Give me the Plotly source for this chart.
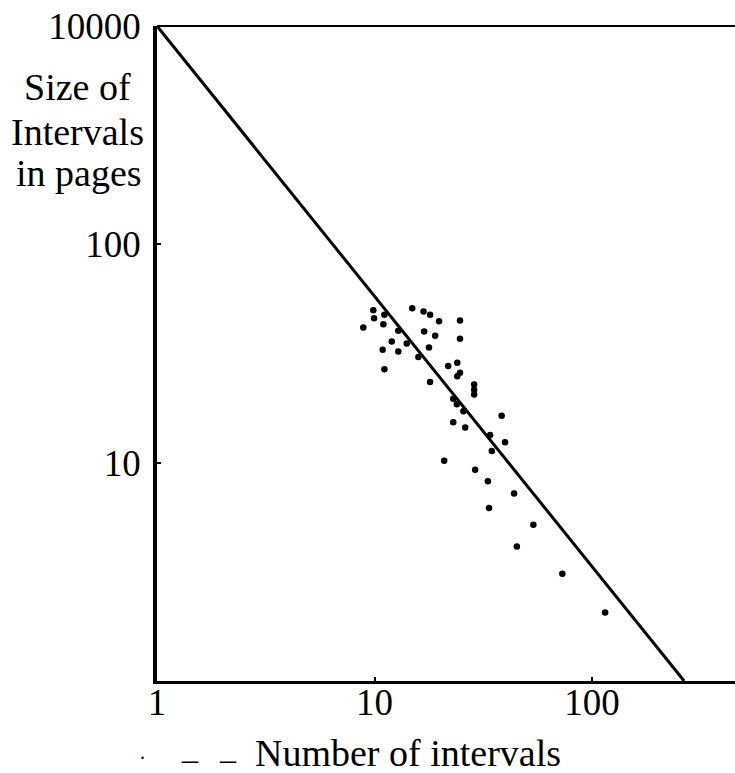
import plotly.graph_objects as go

# Data (log-log chart)
num_intervals = [8.88, 9.87, 9.95, 11.1, 10.98, 12.86, 12.0, 14.06, 10.9, 12.86, 15.9, 11.1,
                 14.9, 16.8, 18.0, 19.8, 24.7, 16.9, 19.0, 24.7, 17.8, 21.8, 24.0, 24.7, 24.0,
                 18.0, 28.7, 28.7, 28.7, 23.0, 23.9, 25.6, 38.4, 23.0, 26.1, 34.0, 39.8, 34.6,
                 20.9, 29.0, 33.2, 43.8, 33.6, 53.7, 45.1, 73.0, 114.8]
size_pages = [41.6, 49.9, 45.9, 47.6, 43.1, 40.2, 35.9, 35.1, 32.9, 32.3, 30.5, 26.8,
              51.0, 49.3, 47.6, 44.4, 44.8, 39.9, 38.1, 36.9, 33.7, 27.7, 28.7, 25.8, 24.9,
              23.4, 22.8, 21.6, 20.5, 19.6, 18.5, 17.2, 16.4, 15.3, 14.5, 13.4, 12.4, 11.3,
              10.2, 9.29, 8.21, 7.23, 6.20, 5.19, 4.13, 3.10, 2.06]

fit_x = [1, 265]
fit_y = [1000, 1]

x_tickvals = [1, 10, 100]
x_ticktext = ["1", "10", "100"]
y_tickvals = [10, 100, 1000]
y_ticktext = ["10", "100", "10000"]

FONT = "Liberation Serif, Times New Roman, serif"

fig = go.Figure()
fig.add_trace(go.Scatter(x=fit_x, y=fit_y, mode="lines",
                         line=dict(color="black", width=3), showlegend=False))
fig.add_trace(go.Scatter(x=num_intervals, y=size_pages, mode="markers",
                         marker=dict(color="black", size=6.5), showlegend=False))

W, H = 735, 773
L, R, T, B = 157, 0, 26, 92
ph = H - T - B

def ypaper(py):
    return (H - B - py) / ph

def xpaper(px):
    return (px - L) / (W - L - R)

fig.update_layout(
    width=W, height=H,
    margin=dict(l=L, r=R, t=T, b=B, pad=0),
    paper_bgcolor="white", plot_bgcolor="white",
    font=dict(family=FONT, color="black", size=37),
    xaxis=dict(type="log", range=[0, 2.657], tickvals=x_tickvals, ticktext=x_ticktext,
               showgrid=False, zeroline=False, showline=True, linecolor="black", linewidth=3,
               ticks="inside", ticklen=4, tickwidth=1.5, tickcolor="black",
               tickfont=dict(family=FONT, size=37, color="black"), ticklabelstandoff=-13),
    yaxis=dict(type="log", range=[0, 3.0], tickvals=y_tickvals, ticktext=y_ticktext,
               showgrid=False, zeroline=False, showline=True, linecolor="black", linewidth=3.5,
               ticks="inside", ticklen=4, tickwidth=1.5, tickcolor="black",
               tickfont=dict(family=FONT, size=37, color="black"), ticklabelstandoff=5),
    shapes=[dict(type="line", xref="paper", yref="paper", x0=0, x1=1, y0=1, y1=1,
                 line=dict(color="black", width=2))],
)

annots = [
    ("Size of", 77, 87),
    ("Intervals", 77, 132),
    ("in pages", 79, 173),
]
for txt, px, py in annots:
    fig.add_annotation(text=txt, xref="paper", yref="paper", x=xpaper(px), y=ypaper(py),
                       xanchor="center", yanchor="middle", showarrow=False,
                       font=dict(family=FONT, size=38, color="black"))

fig.add_annotation(text="Number of intervals", xref="paper", yref="paper",
                   x=xpaper(253), y=ypaper(753), xanchor="left", yanchor="middle",
                   showarrow=False, font=dict(family=FONT, size=38, color="black"))
fig.add_annotation(text=".", xref="paper", yref="paper", x=xpaper(142), y=ypaper(752),
                   xanchor="center", yanchor="middle", showarrow=False,
                   font=dict(family=FONT, size=20, color="black"))
for cx in (190, 228):
    fig.add_annotation(text="_", xref="paper", yref="paper", x=xpaper(cx), y=ypaper(748),
                       xanchor="center", yanchor="middle", showarrow=False,
                       font=dict(family=FONT, size=32, color="black"))

fig.write_html("out.html")
